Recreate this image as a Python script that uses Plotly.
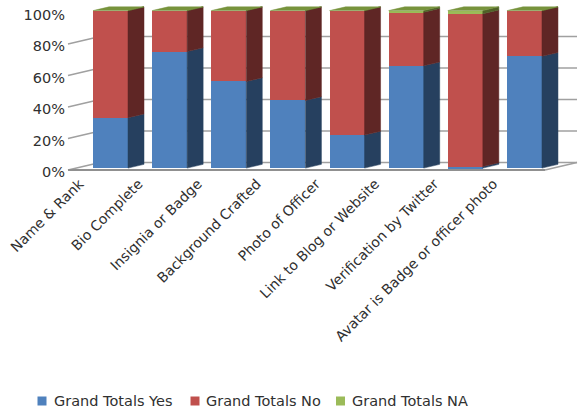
import plotly.graph_objects as go

# ---- data -------------------------------------------------------------
categories = [
    "Name & Rank",
    "Bio Complete",
    "Insignia or Badge",
    "Background Crafted",
    "Photo of Officer",
    "Link to Blog or Website",
    "Verification by Twitter",
    "Avatar is Badge or officer photo",
]
yes_pct = [32, 74, 55, 43, 21, 65, 1, 71]
no_pct = [68, 26, 45, 57, 79, 34, 97, 29]
na_pct = [0, 0, 0, 0, 0, 1, 2, 0]
series_names = ["Grand Totals Yes", "Grand Totals No", "Grand Totals NA"]
y_ticks = [0, 20, 40, 60, 80, 100]
y_tick_text = ["0%", "20%", "40%", "60%", "80%", "100%"]

# ---- styling ----------------------------------------------------------
front_colors = ["#4F81BD", "#C0504D", "#9BBB59"]
side_colors = ["#26405F", "#5F2625", "#4F6228"]
top_color = "#77933C"
grid_color = "#A0A0A0"
text_color = "#303030"
FONT = "DejaVu Sans"
FONT_SIZE = 14.5

W, H = 580, 413
PX_PER_CAT = 59.14      # pixels between category centres
PX_PER_PCT = 1.575      # pixels per percentage point
X0_PX = 110.5           # pixel x of the first category centre
Y0_PX = 168.1           # pixel y of 0% on the bars' front plane


def dx(p):
    return p / PX_PER_CAT


def dy(p):
    return p / PX_PER_PCT


def px_to_x(p):
    return (p - X0_PX) / PX_PER_CAT


x_range = [px_to_x(0), px_to_x(W)]
y_range = [(Y0_PX - H) / PX_PER_PCT, Y0_PX / PX_PER_PCT]

half_w = dx(17.5)
depth_x, depth_y = dx(32), dy(7.5)          # full depth of the floor
bar_dx, bar_dy = depth_x / 2, depth_y / 2   # depth of each column
front_off_y = -depth_y / 4                  # wall front plane vs. bar front
back_off_y = 3 * depth_y / 4                # back wall vs. bar front
xl_front = px_to_x(68)
xl_back = xl_front + depth_x
xr_front = px_to_x(545)
xr_back = xr_front + depth_x

series_vals = [yes_pct, no_pct, na_pct]
xs = list(range(len(categories)))

fig = go.Figure()

# front faces: stacked bars
for name, vals, col in zip(series_names, series_vals, front_colors):
    fig.add_trace(go.Bar(
        x=xs, y=vals, name=name, width=2 * half_w,
        marker=dict(color=col, line=dict(width=0)),
        hoverinfo="skip", showlegend=False,
    ))

# side faces of every segment
bases = [0.0] * len(xs)
for vals, col in zip(series_vals, side_colors):
    px_, py_ = [], []
    for i, v in enumerate(vals):
        b, t = bases[i], bases[i] + v
        xr = i + half_w
        px_ += [xr, xr + bar_dx, xr + bar_dx, xr, xr, None]
        py_ += [b, b + bar_dy, t + bar_dy, t, b, None]
        bases[i] = t
    fig.add_trace(go.Scatter(
        x=px_, y=py_, mode="lines", fill="toself", fillcolor=col,
        line=dict(color=col, width=0.5), showlegend=False, hoverinfo="skip",
    ))

# top faces
tx, ty = [], []
for i, top in enumerate(bases):
    xl, xr = i - half_w, i + half_w
    tx += [xl, xl + bar_dx, xr + bar_dx, xr, xl, None]
    ty += [top, top + bar_dy, top + bar_dy, top, top, None]
fig.add_trace(go.Scatter(
    x=tx, y=ty, mode="lines", fill="toself", fillcolor=top_color,
    line=dict(color=top_color, width=0.5), showlegend=False, hoverinfo="skip",
))

# walls, gridlines and floor edges
shapes = []
line_style = dict(color=grid_color, width=1.5)
for v in y_ticks[:-1]:
    shapes.append(dict(type="line", layer="below", xref="x", yref="y",
                       x0=xl_back, x1=xr_back, y0=v + back_off_y, y1=v + back_off_y,
                       line=line_style))
    shapes.append(dict(type="line", layer="below", xref="x", yref="y",
                       x0=xl_front, x1=xl_back, y0=v + front_off_y, y1=v + back_off_y,
                       line=line_style))
shapes.append(dict(type="line", layer="below", xref="x", yref="y",
                   x0=xl_front, x1=xr_front, y0=front_off_y, y1=front_off_y,
                   line=dict(color="#909090", width=2)))
shapes.append(dict(type="line", layer="below", xref="x", yref="y",
                   x0=xr_front, x1=xr_back, y0=front_off_y, y1=back_off_y,
                   line=line_style))

# legend: colour swatch + label per series
annotations = []
legend_sq_px = [37.5, 190.5, 336.0]
legend_txt_px = [53.0, 205.0, 350.5]
LEG_Y = 401.0
for name, col, sx, tx_px in zip(series_names, front_colors, legend_sq_px, legend_txt_px):
    shapes.append(dict(type="rect", xref="paper", yref="paper",
                       x0=sx / W, x1=(sx + 9) / W,
                       y0=1 - (LEG_Y + 4.5) / H, y1=1 - (LEG_Y - 4.5) / H,
                       fillcolor=col, line=dict(width=0)))
    annotations.append(dict(xref="paper", yref="paper", x=tx_px / W, y=1 - LEG_Y / H,
                            xanchor="left", yanchor="middle", showarrow=False,
                            text=name, borderpad=0,
                            font=dict(family=FONT, size=FONT_SIZE, color=text_color)))

fig.update_layout(
    width=W, height=H,
    margin=dict(l=0, r=0, t=0, b=0, autoexpand=False),
    paper_bgcolor="white", plot_bgcolor="white",
    barmode="stack", bargap=0,
    font=dict(family=FONT, size=FONT_SIZE, color=text_color),
    shapes=shapes,
    annotations=annotations,
    showlegend=False,
    xaxis=dict(range=x_range, domain=[0, 1], anchor="free",
               position=1 - 170 / H, automargin=False,
               tickmode="array", tickvals=xs, ticktext=categories,
               tickangle=-45, ticks="", ticklabelshift=-31,
               ticklabelstandoff=2,
               ticklabeloverflow="allow",
               tickfont=dict(family=FONT, size=14, color=text_color),
               showgrid=False, zeroline=False, showline=False,
               fixedrange=True),
    yaxis=dict(range=y_range, domain=[0, 1], anchor="free",
               position=68 / W, automargin=False,
               tickmode="array", tickvals=y_ticks, ticktext=y_tick_text,
               ticks="", ticklabelshift=4, ticklabelstandoff=3,
               ticklabeloverflow="allow",
               showgrid=False, zeroline=False, showline=False,
               fixedrange=True),
)

fig.write_html("out.html")
